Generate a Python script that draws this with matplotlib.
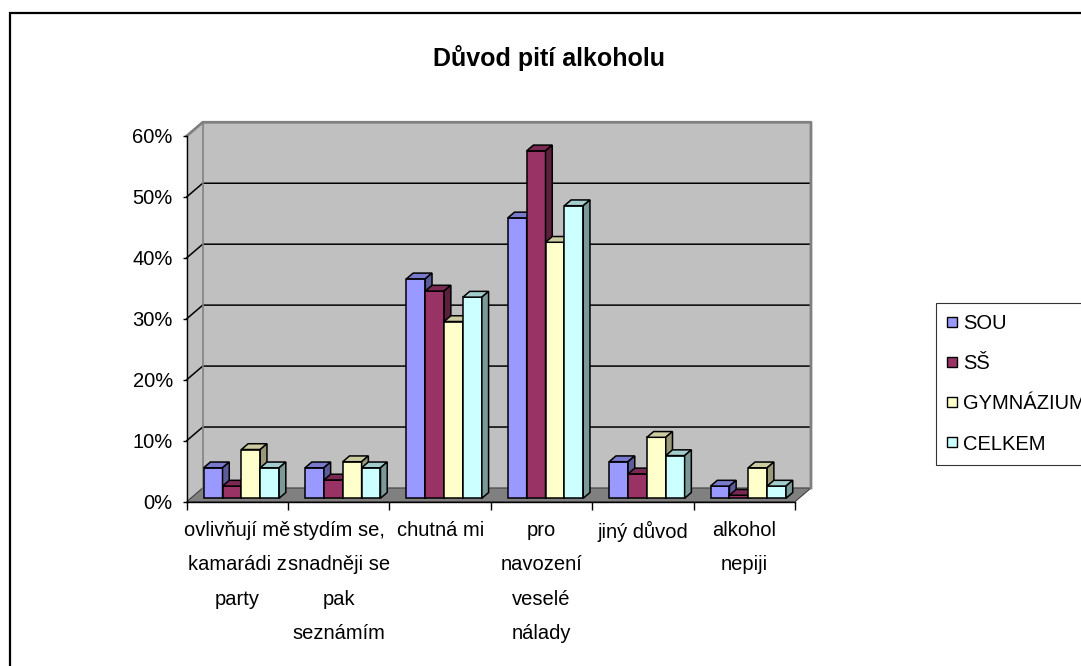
import matplotlib
matplotlib.use("Agg")
import matplotlib.pyplot as plt
from matplotlib.patches import Polygon, Rectangle
from matplotlib.lines import Line2D
import numpy as np

plt.rcParams['font.family'] = ['Liberation Sans', 'DejaVu Sans']

# data (percent)
categories = ["ovlivňují mě\nkamarádi z\nparty",
              "stydím se,\nsnadněji se\npak\nseznámím",
              "chutná mi",
              "pro\nnavození\nveselé\nnálady",
              "jiný důvod",
              "alkohol\nnepiji"]
series = ["SOU", "SŠ", "GYMNÁZIUM", "CELKEM"]
sou = [5, 5, 36, 46, 6, 2]
ss = [2, 3, 34, 57, 4, 0.5]
gym = [8, 6, 29, 42, 10, 5]
celkem = [5, 5, 33, 48, 7, 2]
values = [sou, ss, gym, celkem]
yticks = [0, 10, 20, 30, 40, 50, 60]

front = ['#9999FF', '#993366', '#FFFFCC', '#CCFFFF']
top_c = ['#7A7ACC', '#7A2952', '#CCCCA3', '#A3CCCC']
side_c = ['#5C5C99', '#5C1F3D', '#99997A', '#7A9999']

# pseudo 3d depth (data units)
DX = 0.158
DY = 2.25
F0 = 0.25     # bar front position in depth
FD = 0.42     # bar depth
bw = 0.186

fig = plt.figure(figsize=(10.81, 6.66), dpi=100)
ax = fig.add_axes([0.1727, 0.2467, 0.5627, 0.5491])
ax.set_xlim(0, 6)
ax.set_ylim(0, 60)
ax.patch.set_visible(False)

n = len(categories)
ymax = yticks[-1]
# walls
ax.add_patch(Polygon([(0, 0), (DX, DY), (DX, ymax + DY), (0, ymax)], closed=True,
                     facecolor='#C0C0C0', edgecolor='none', zorder=0, clip_on=False))
ax.add_patch(Rectangle((DX, DY), n, ymax, facecolor='#C0C0C0', edgecolor='none',
                       zorder=0, clip_on=False))
ax.add_patch(Polygon([(0, 0), (n, 0), (n + DX, DY), (DX, DY)], closed=True,
                     facecolor='#808080', edgecolor='#404040', lw=0.8, zorder=0.5, clip_on=False))
for v in yticks[1:-1]:
    ax.plot([0, DX, n + DX], [v, v + DY, v + DY], color='black', lw=1.1, zorder=0.6, clip_on=False)
ax.plot([0, DX, n + DX, n + DX], [ymax, ymax + DY, ymax + DY, DY], color='#808080', lw=2,
        zorder=0.6, clip_on=False)
ax.plot([DX, DX], [DY, ymax + DY], color='#808080', lw=1.2, zorder=0.6, clip_on=False)

# bars
z = 2
for i in range(n):
    for j in range(len(series)):
        v = values[j][i]
        x0 = i + 0.5 - 2 * bw + j * bw + F0 * DX
        y0 = F0 * DY
        ddx, ddy = FD * DX, FD * DY
        ax.bar(x0, v, bw, bottom=y0, align='edge', color=front[j], edgecolor='black',
               lw=1.1, zorder=z, clip_on=False)
        ax.add_patch(Polygon([(x0, y0 + v), (x0 + ddx, y0 + v + ddy), (x0 + bw + ddx, y0 + v + ddy),
                              (x0 + bw, y0 + v)], closed=True, facecolor=top_c[j],
                             edgecolor='black', lw=1.1, zorder=z, clip_on=False))
        ax.add_patch(Polygon([(x0 + bw, y0), (x0 + bw, y0 + v), (x0 + bw + ddx, y0 + v + ddy),
                              (x0 + bw + ddx, y0 + ddy)], closed=True, facecolor=side_c[j],
                             edgecolor='black', lw=1.1, zorder=z, clip_on=False))
        z += 0.01

# axes styling
for s in ['top', 'right']:
    ax.spines[s].set_visible(False)
for s in ['left', 'bottom']:
    ax.spines[s].set_color('black')
    ax.spines[s].set_linewidth(1.0)
    ax.spines[s].set_zorder(5)
ax.set_yticks(yticks)
ax.set_yticklabels([f"{v}%" for v in yticks])
ax.tick_params(axis='y', length=3, width=1, pad=7, labelsize=14.5)
ax.set_xticks(np.arange(n) + 0.5)
ax.set_xticklabels(categories, linespacing=2.02, fontsize=14.5)
ax.set_xticks(np.arange(n + 1), minor=True)
ax.tick_params(axis='x', which='major', length=0, pad=14)
ax.tick_params(axis='x', which='minor', length=6, width=1)

fig.text(549 / 1081, 1 - 58 / 666, "Důvod pití alkoholu", ha='center', va='center',
         fontsize=18, fontweight='bold')

handles = [Line2D([], [], marker='s', ls='none', markersize=7, markerfacecolor=front[j],
                  markeredgecolor='black', markeredgewidth=1) for j in range(len(series))]
leg = fig.legend(handles, series, loc='upper left', bbox_to_anchor=(936 / 1081, 1 - 303 / 666),
                 fontsize=14.5, frameon=True, fancybox=False, edgecolor='black',
                 handlelength=0.5, handletextpad=0.3, labelspacing=1.05, borderpad=0.55,
                 borderaxespad=0)
leg.get_frame().set_linewidth(0.8)

fig.patches.append(Rectangle((10 / 1081, -0.1), 1.2, 1.1 - 13 / 666, transform=fig.transFigure,
                             fill=False, edgecolor='black', lw=1.6))

fig.savefig("out.png", dpi=100)
